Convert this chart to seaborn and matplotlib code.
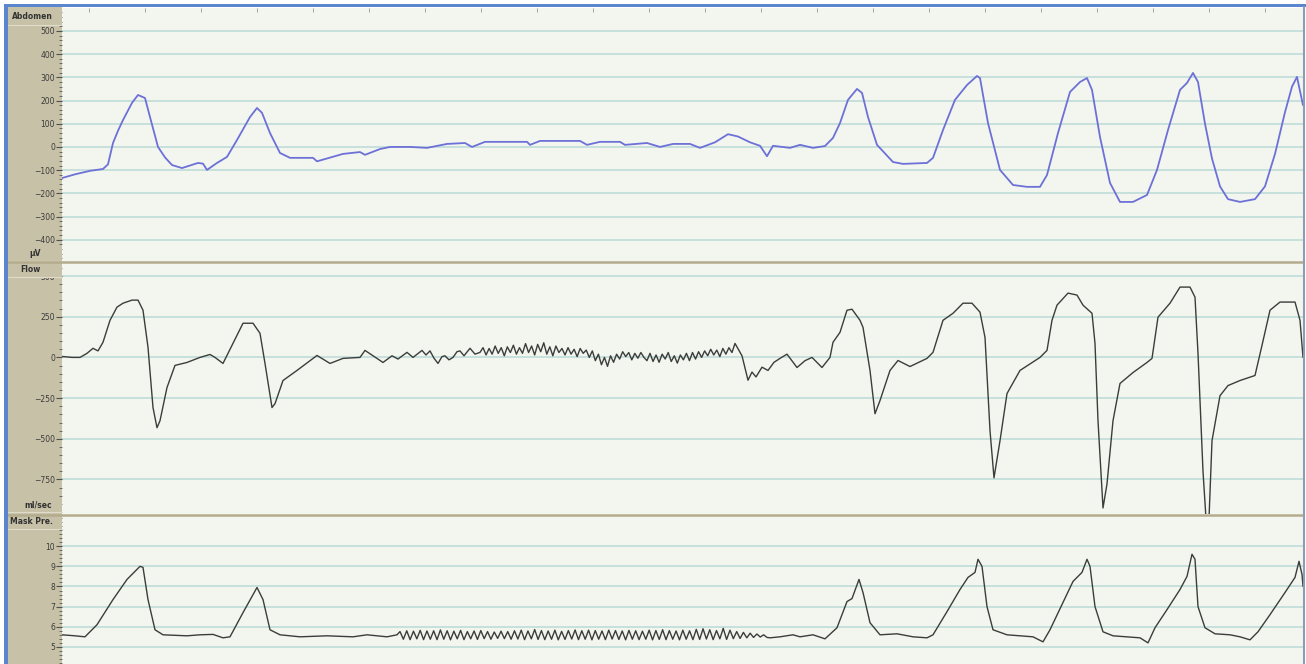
import numpy as np
import pandas as pd
import matplotlib
matplotlib.use("Agg")
import matplotlib.pyplot as plt
import seaborn as sns
from matplotlib.patches import Rectangle
from matplotlib.lines import Line2D
from matplotlib.ticker import MultipleLocator

# ==========================================
# DATA (time in seconds)
# ==========================================
# Abdomen effort (uV)
abd_t = [0.0, 1.3, 2.8, 4.1, 4.6, 5.1, 5.6, 6.1, 7.0, 7.6, 8.3, 8.8, 9.6, 10.3, 11.0, 12.0,
         13.6, 14.1, 14.5, 15.5, 16.5, 17.5, 18.8, 19.5, 20.0, 20.8, 21.8, 22.8, 25.1, 25.5,
         28.1, 29.8, 30.3, 31.8, 32.8, 34.8, 36.5, 38.5, 40.3, 41.0, 42.3, 46.5, 46.8, 47.8,
         51.8, 52.5, 53.8, 55.8, 56.3, 58.5, 59.8, 61.1, 62.8, 63.8, 65.3, 66.6, 67.6, 68.8,
         69.8, 70.5, 71.1, 72.8, 73.8, 75.1, 76.3, 77.1, 77.8, 78.6, 79.5, 80.0, 80.6, 81.5,
         83.1, 84.1, 86.5, 87.1, 88.1, 89.3, 90.5, 91.5, 91.8, 92.6, 93.8, 95.1, 96.5, 97.8,
         98.5, 99.6, 100.8, 101.8, 102.5, 103.0, 103.8, 104.8, 105.8, 107.1, 108.5, 109.5,
         110.6, 111.8, 112.5, 113.1, 113.6, 114.3, 115.0, 115.8, 116.6, 117.8, 119.3, 120.3,
         121.3, 122.3, 123.0, 123.5, 124.1]
abd_v = [-134, -118, -103, -95, -75, 17, 70, 116, 190, 224, 211, 129, 0, -45, -78, -91,
         -69, -72, -99, -69, -43, 30, 129, 168, 147, 60, -26, -47, -47, -62,
         -30, -22, -34, -9, 0, 0, -4, 13, 17, 0, 22, 22, 9, 26,
         26, 9, 22, 22, 9, 17, 0, 13, 13, -4, 20, 55, 45, 20,
         5, -40, 5, -4, 9, -4, 4, 39, 103, 203, 250, 233, 129, 9,
         -65, -73, -69, -47, 73, 203, 267, 306, 297, 103, -99, -164, -172, -172,
         -121, 60, 237, 280, 297, 246, 43, -155, -237, -237, -207, -99,
         73, 246, 276, 319, 280, 100, -50, -170, -225, -237, -225, -170,
         -30, 150, 260, 302, 180]

# Flow (ml/sec): before the ripple, the ripple itself, after the ripple
flow_t_a = [0.0, 1.0, 1.8, 2.5, 3.1, 3.6, 4.1, 4.8, 5.5, 6.1, 7.0, 7.6, 8.1, 8.6, 9.1, 9.5,
            9.8, 10.5, 11.3, 12.5, 13.8, 14.8, 15.3, 16.1, 17.1, 18.1, 19.1, 19.8, 20.3,
            21.0, 21.3, 22.1, 23.5, 25.5, 26.8, 28.1, 29.8, 30.3, 31.5, 32.1, 33.0, 33.6,
            34.5, 35.1, 36.0, 36.4, 36.8, 37.2, 37.6, 38.0, 38.3, 38.7, 39.1, 39.5, 39.8,
            40.2, 40.8, 41.3]
flow_v_a = [6, 0, 0, 25, 56, 40, 93, 228, 309, 333, 352, 352, 290, 62, -308, -432,
            -389, -185, -49, -31, 0, 18, 0, -37, 86, 210, 210, 148, -37,
            -308, -284, -142, -80, 12, -37, -6, 0, 43, -6, -31, 10, -10,
            31, 0, 43, 15, 40, -5, -37, 5, 10, -15, 0, 35, 40,
            10, 56, 20]
flow_ripple_span = (41.8, 67.3)
flow_ripple_v = [31, 60, 15, 55, 20, 70, 25, 60, 10, 65, 30, 75, 20, 60,
                 25, 85, 30, 70, 15, 80, 35, 90, 20, 65, 10, 70, 30, 55,
                 15, 60, 20, 50, 5, 55, 25, 45, 0, 40,
                 -20, 20, -45, 0, -55, 10, -30,
                 20, -10, 35, 5, 30, -15, 25, -5, 30, 0,
                 -20, 25, -25, 15, -30, 20, -10, 30, -25, 10, -35, 15, -15, 25, -20, 30, -10, 35, 0, 40,
                 10, 50, 15, 45, 5, 55, 20, 60, 30, 86]
flow_t_b = [68.0, 68.6, 69.0, 69.4, 70.0, 70.6, 71.2, 71.8, 72.5, 73.5, 74.3, 75.0, 76.0,
            76.8, 77.1, 77.8, 78.5, 79.0, 79.8, 80.1, 80.8, 81.3, 81.8, 82.8, 83.6, 84.8,
            86.5, 87.1, 88.1, 89.1, 90.1, 91.0, 91.8, 92.3, 92.8, 93.2, 93.8, 94.5, 95.8,
            97.8, 98.5, 99.0, 99.5, 100.6, 101.5, 102.1, 103.0, 103.3, 103.6, 104.1, 104.5,
            105.1, 105.8, 107.1, 108.5, 109.0, 109.6, 110.8, 111.8, 112.8, 113.3, 113.6,
            114.1, 114.4, 114.7, 115.0, 115.8, 116.6, 117.8, 119.3, 120.0, 120.8, 121.8,
            123.3, 123.8, 124.1]
flow_v_b = [10, -140, -90, -120, -60, -80, -30, -6, 20, -62, -20, 0, -62,
            0, 93, 154, 290, 296, 228, 185, -80, -346, -265, -80, -19, -56,
            -6, 31, 228, 271, 333, 333, 278, 123, -450, -740, -512, -222, -80,
            0, 43, 228, 321, 395, 383, 321, 271, 86, -389, -925, -777,
            -389, -160, -93, -31, -6, 247, 333, 432, 432, 370, 25,
            -700, -990, -990, -512, -235, -173, -142, -111, 74, 290, 340,
            340, 228, 0]

# Mask pressure
mask_t_a = [0.0, 1.3, 2.3, 3.5, 5.1, 6.5, 7.5, 7.8, 8.1, 8.6, 9.3, 10.1, 12.5, 13.8, 15.1,
            16.1, 16.8, 18.1, 19.5, 20.1, 20.8, 21.8, 23.8, 26.5, 29.1, 30.5, 32.5, 33.5]
mask_v_a = [5.6, 5.55, 5.5, 6.1, 7.35, 8.35, 8.85, 9.0, 8.95, 7.35, 5.85, 5.6, 5.55, 5.6, 5.62,
            5.45, 5.5, 6.7, 7.95, 7.35, 5.85, 5.6, 5.5, 5.55, 5.5, 5.6, 5.5, 5.6]
mask_ripple_span = (33.8, 70.5)
mask_ripple_v = [5.76, 5.38, 5.80, 5.36, 5.78, 5.40, 5.82, 5.36, 5.79, 5.38,
                 5.80, 5.36, 5.84, 5.38, 5.80, 5.35, 5.78, 5.40, 5.82, 5.36,
                 5.76, 5.40, 5.79, 5.37, 5.81, 5.41, 5.76, 5.38, 5.74, 5.42,
                 5.78, 5.41, 5.76, 5.38, 5.80, 5.39, 5.83, 5.36, 5.79, 5.40,
                 5.86, 5.37, 5.81, 5.36, 5.79, 5.38, 5.83, 5.35, 5.77, 5.37,
                 5.81, 5.39, 5.84, 5.36, 5.80, 5.38, 5.83, 5.35, 5.81, 5.38,
                 5.79, 5.36, 5.83, 5.39, 5.81, 5.37, 5.79, 5.35, 5.82, 5.38,
                 5.80, 5.36, 5.78, 5.38, 5.83, 5.35, 5.81, 5.37, 5.85, 5.36,
                 5.81, 5.38, 5.79, 5.35, 5.83, 5.38, 5.80, 5.36, 5.87, 5.37,
                 5.90, 5.39, 5.85, 5.36, 5.81, 5.40, 5.92, 5.37, 5.83, 5.41,
                 5.76, 5.42, 5.72, 5.45, 5.68, 5.47, 5.64, 5.49, 5.60, 5.47]
mask_t_b = [70.8, 71.8, 73.1, 73.8, 75.1, 76.3, 77.5, 78.5, 79.0, 79.7, 80.1, 80.8, 81.8,
            83.5, 85.1, 86.5, 87.1, 88.5, 89.8, 90.6, 91.3, 91.6, 92.0, 92.5, 93.1, 94.5,
            97.1, 98.1, 98.8, 100.1, 101.1, 102.0, 102.5, 102.8, 103.3, 104.1, 105.1,
            107.8, 108.6, 109.3, 110.5, 111.8, 112.5, 113.0, 113.3, 113.6, 114.3, 115.3,
            116.8, 117.8, 118.8, 119.6, 120.8, 122.3, 123.3, 123.7, 124.0, 124.1]
mask_v_b = [5.45, 5.5, 5.6, 5.5, 5.6, 5.4, 5.95, 7.25, 7.4, 8.35, 7.7, 6.2, 5.6,
            5.65, 5.5, 5.45, 5.6, 6.75, 7.85, 8.45, 8.7, 9.35, 9.0, 7.0, 5.85, 5.6,
            5.5, 5.25, 5.85, 7.2, 8.25, 8.7, 9.35, 9.0, 7.0, 5.75, 5.55,
            5.45, 5.2, 5.95, 6.85, 7.85, 8.5, 9.6, 9.35, 7.0, 5.95, 5.65,
            5.6, 5.5, 5.35, 5.75, 6.6, 7.7, 8.45, 9.25, 8.6, 8.0]


def join_trace(t_a, v_a, span, ripple, t_b, v_b):
    # ripple values are equally spaced samples inside span
    t_r = np.linspace(span[0], span[1], len(ripple))
    t = np.concatenate([t_a, t_r, t_b])
    v = np.concatenate([v_a, ripple, v_b])
    return pd.DataFrame({"t": t, "v": v})


abd_df = pd.DataFrame({"t": abd_t, "v": abd_v})
flow_df = join_trace(flow_t_a, flow_v_a, flow_ripple_span, flow_ripple_v, flow_t_b, flow_v_b)
mask_df = join_trace(mask_t_a, mask_v_a, mask_ripple_span, mask_ripple_v, mask_t_b, mask_v_b)

# ==========================================
# LAYOUT (pixel boxes of the screen)
# ==========================================
sns.set_style("white")
plt.rcParams["font.family"] = ["DejaVu Sans"]

W, H = 1306, 664
fig = plt.figure(figsize=(W / 100, H / 100), dpi=100)
fig.patch.set_facecolor("white")


def box(x0, y0, x1, y1):
    return [x0 / W, 1 - y1 / H, (x1 - x0) / W, (y1 - y0) / H]


def frect(x0, y0, x1, y1, color, z=1):
    fig.add_artist(Rectangle((x0 / W, 1 - y1 / H), (x1 - x0) / W, (y1 - y0) / H,
                             transform=fig.transFigure, facecolor=color,
                             edgecolor="none", zorder=z))


def fline(x0, y0, x1, y1, color, lw, z=3):
    fig.add_artist(Line2D([x0 / W, x1 / W], [1 - y0 / H, 1 - y1 / H],
                          transform=fig.transFigure, color=color, lw=lw, zorder=z))


PANEL = "#c7c1a7"
BG = "#f2f6ef"
GRID = "#c3dedb"

# grey label column on the left
frect(8, 7, 62, 664, PANEL, z=-1)

ax1 = fig.add_axes(box(62, 8, 1303, 262))
ax2 = fig.add_axes(box(62, 263, 1303, 514))
ax3 = fig.add_axes(box(62, 515, 1303, 664))

panels = [
    (ax1, abd_df, "#6d70d6", 1.3, (-496, 599), range(-400, 501, 100), 20),
    (ax2, flow_df, "#3b3d3b", 1.0, (-962, 580), range(-750, 501, 250), 50),
    (ax3, mask_df, "#3b3d3b", 1.0, (4.15, 11.55), range(5, 11), 0.2),
]

for ax, df, col, lw, ylim, ticks, minor in panels:
    ax.set_facecolor(BG)
    sns.lineplot(data=df, x="t", y="v", ax=ax, color=col, lw=lw,
                 sort=False, estimator=None)
    ax.set_xlim(0, 124.1)
    ax.set_ylim(*ylim)
    ax.set_yticks(list(ticks))
    ax.yaxis.set_minor_locator(MultipleLocator(minor))
    ax.grid(axis="y", which="major", color=GRID, lw=1.3)
    ax.set_axisbelow(True)
    ax.set_xlabel("")
    ax.set_ylabel("")
    for s in ax.spines.values():
        s.set_visible(False)
    ax.tick_params(axis="y", which="major", left=True, direction="out", length=4,
                   width=0.8, color="#505050", labelsize=5.5, labelcolor="#3a3a3a", pad=1)
    ax.tick_params(axis="y", which="minor", left=True, direction="out", length=2,
                   width=0.6, color="#5a5a5a")
    ax.tick_params(axis="x", bottom=False, labelbottom=False)

# faint time ticks along the top edge
ax1.set_xticks(np.arange(2.7, 124, 5.6))
ax1.tick_params(axis="x", top=True, bottom=False, labeltop=False, labelbottom=False,
                direction="in", length=3, width=0.7, color="#9aa6a6")

# header cells of the label column (drawn on top, hiding the clipped 500 label)
cells = [(8, 8, 62, 25, "Abdomen", 12, "left"),
         (8, 246, 62, 261, "µV", 35, "center"),
         (8, 263, 62, 277, "Flow", 30, "center"),
         (8, 497, 62, 512, "ml/sec", 38, "center"),
         (8, 515, 62, 529, "Mask Pre.", 10, "left")]
for x0, y0, x1, y1, label, tx, ha in cells:
    frect(x0, y0, x1, y1, PANEL, z=2)
    fline(x0, y1, x1, y1, "#e0dccb", 0.8)
    fig.text(tx / W, 1 - (y0 + y1) / 2 / H, label, ha=ha, va="center",
             fontsize=5.5, color="#333333", fontweight="bold", zorder=4)

# channel dividers
fline(8, 262.5, 1303, 262.5, "#b3ab8c", 1.8)
fline(8, 514.5, 1303, 514.5, "#b3ab8c", 1.8)

# window frame: blue left and top border, thin right edge
frect(4, 4, 8, 664, "#5a85cf", z=5)
frect(4, 4, 1306, 7, "#5a85cf", z=5)
fline(1304, 7, 1304, 664, "#8f9cb5", 1.5, z=5)

plt.savefig("out.png", dpi=100)
